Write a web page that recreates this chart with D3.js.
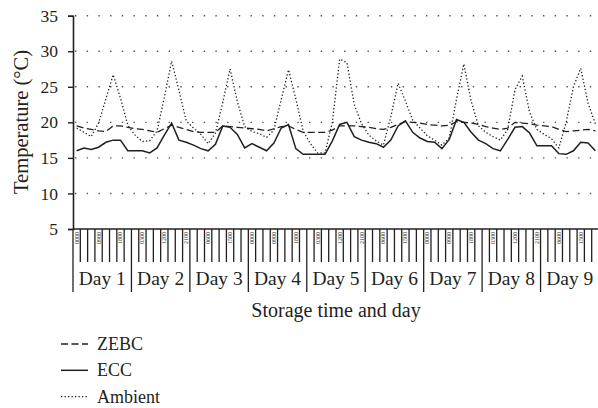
<!DOCTYPE html>
<html>
<head>
<meta charset="utf-8">
<style>
body { margin: 0; background: #fff; }
text { font-family: "Liberation Serif", "DejaVu Serif", serif; fill: #231f20; }
.axis path, .axis line { stroke: #231f20; }
</style>
</head>
<body>
<script src="https://cdn.jsdelivr.net/npm/d3@7/dist/d3.min.js"></script>
<script>

// categories
var days = ["Day 1", "Day 2", "Day 3", "Day 4", "Day 5", "Day 6", "Day 7", "Day 8", "Day 9"];
var times = ["0000", "0300", "0600", "0900", "1200", "1500", "1800", "2100"];
var yTicks = [5, 10, 15, 20, 25, 30, 35];

// series values, 8 readings per day
var zebc = [19.5, 19.2, 19.0, 18.8, 18.7, 19.5, 19.5, 19.3,
            19.1, 19.0, 18.8, 18.6, 19.1, 19.6, 19.3, 19.0,
            18.7, 18.6, 18.6, 18.6, 19.5, 19.4, 19.3, 19.2,
            19.1, 19.0, 18.8, 19.1, 19.4, 19.5, 19.0, 18.6,
            18.6, 18.6, 18.6, 18.9, 19.5, 19.5, 19.5, 19.4,
            19.3, 19.1, 19.0, 19.3, 19.7, 20.1, 20.0, 19.9,
            19.7, 19.6, 19.5, 19.6, 20.1, 20.0, 19.9, 19.7,
            19.4, 19.2, 19.0, 19.2, 20.0, 19.9, 19.8, 19.6,
            19.5, 19.4, 19.0, 18.7, 18.8, 18.9, 19.0, 18.8];

var ecc = [16.0, 16.4, 16.2, 16.5, 17.2, 17.5, 17.5, 16.0,
           16.0, 16.0, 15.7, 16.4, 18.2, 19.9, 17.5, 17.2,
           16.8, 16.3, 16.0, 16.9, 19.5, 19.3, 18.3, 16.4,
           17.0, 16.5, 16.0, 17.1, 19.2, 19.7, 16.3, 15.5,
           15.5, 15.5, 15.5, 17.4, 19.7, 20.0, 18.0, 17.5,
           17.2, 17.0, 16.5, 17.5, 19.5, 20.2, 18.6, 17.8,
           17.3, 17.2, 16.3, 17.6, 20.4, 20.0, 18.6, 17.5,
           17.0, 16.3, 16.0, 17.6, 19.3, 19.4, 18.5, 16.7,
           16.7, 16.7, 15.6, 15.5, 16.0, 17.2, 17.1, 16.0];

var ambient = [19.2, 18.6, 18.0, 19.9, 23.3, 26.7, 23.4, 19.6,
               18.2, 17.3, 17.4, 18.8, 23.5, 28.6, 24.5, 20.2,
               19.2, 18.3, 17.0, 18.5, 22.8, 27.5, 22.9, 19.4,
               18.7, 18.4, 17.9, 18.9, 23.2, 27.4, 23.3, 18.8,
               17.0, 15.7, 15.7, 20.0, 28.9, 28.4, 22.5, 19.8,
               18.2, 17.4, 16.8, 20.8, 25.5, 23.0, 20.3, 19.2,
               18.1, 17.5, 16.8, 17.8, 23.3, 28.2, 23.0, 19.5,
               18.6, 18.0, 17.5, 19.0, 24.6, 26.5, 21.4, 19.0,
               18.3, 17.7, 16.4, 20.0, 25.0, 27.6, 22.7, 19.8];

var series = [
  {name: "ZEBC", values: zebc, dash: "7,3.5", width: 1.3},
  {name: "ECC", values: ecc, dash: null, width: 1.5},
  {name: "Ambient", values: ambient, dash: "1.3,2.2", width: 1.3}
];

var width = 598, height = 408;
var plotLeft = 73, plotRight = 599, plotTop = 15.7, plotBottom = 229;

var categories = [];
days.forEach(function(d) {
  times.forEach(function(t) { categories.push(d + " " + t); });
});

var x = d3.scaleBand().domain(categories).range([plotLeft, plotRight]);
var xDay = d3.scaleBand().domain(days).range([plotLeft, plotRight]);
var y = d3.scaleLinear().domain([5, 35]).range([plotBottom, plotTop]);

var svg = d3.select("body").append("svg")
    .attr("width", width)
    .attr("height", height);

// dotted gridlines
svg.append("g")
  .selectAll("line")
  .data(yTicks.filter(function(v) { return v > 5; }))
  .enter().append("line")
    .attr("x1", plotLeft)
    .attr("x2", plotRight)
    .attr("y1", function(d) { return y(d); })
    .attr("y2", function(d) { return y(d); })
    .style("stroke", "#555")
    .style("stroke-width", 1.4)
    .style("stroke-dasharray", "1.4,10.3")
    .style("stroke-dashoffset", -2);

// y axis
var yAxis = svg.append("g")
    .attr("class", "axis")
    .attr("font-family", null)
    .attr("transform", "translate(" + plotLeft + ",0)")
    .call(d3.axisLeft(y).tickValues(yTicks).tickSize(5).tickPadding(10));
yAxis.attr("font-family", "Liberation Serif");
yAxis.select(".domain").style("stroke-width", 1.6);
yAxis.selectAll(".tick line").style("stroke-width", 1.4);
yAxis.selectAll("text").style("font-size", "17.5px").attr("fill", "#231f20");

// x axis line
svg.append("line")
    .attr("x1", plotLeft).attr("x2", plotRight)
    .attr("y1", plotBottom).attr("y2", plotBottom)
    .style("stroke", "#231f20").style("stroke-width", 1.6);

// category tick marks
svg.append("g")
  .selectAll("line")
  .data(categories)
  .enter().append("line")
    .attr("x1", function(d) { return x(d) + x.bandwidth(); })
    .attr("x2", function(d) { return x(d) + x.bandwidth(); })
    .attr("y1", plotBottom)
    .attr("y2", function(d, i) { return (i % 8 === 7) ? 292 : 262; })
    .style("stroke", "#231f20")
    .style("stroke-width", 1.3);

// left end of day separators
svg.append("line")
    .attr("x1", plotLeft).attr("x2", plotLeft)
    .attr("y1", plotBottom).attr("y2", 292)
    .style("stroke", "#231f20").style("stroke-width", 1.3);

// small rotated time labels, every third category
svg.append("g")
  .selectAll("text")
  .data(categories.filter(function(d, i) { return i % 3 === 0; }))
  .enter().append("text")
    .attr("transform", function(d) {
      return "translate(" + (x(d) + x.bandwidth() / 2 + 2) + "," + (plotBottom + 3) + ") rotate(-90)";
    })
    .attr("text-anchor", "end")
    .style("font-size", "6px")
    .text(function(d) { return d.split(" ")[2]; });

// day labels
svg.append("g")
  .selectAll("text")
  .data(days)
  .enter().append("text")
    .attr("x", function(d) { return xDay(d) + xDay.bandwidth() / 2; })
    .attr("y", 285)
    .attr("text-anchor", "middle")
    .style("font-size", "19.5px")
    .text(function(d) { return d; });

// axis titles
svg.append("text")
    .attr("x", 336)
    .attr("y", 317)
    .attr("text-anchor", "middle")
    .style("font-size", "20px")
    .text("Storage time and day");

svg.append("text")
    .attr("transform", "translate(28," + 122 + ") rotate(-90)")
    .attr("text-anchor", "middle")
    .style("font-size", "20.5px")
    .text("Temperature (°C)");

// lines
var line = d3.line()
    .x(function(d, i) { return x(categories[i]) + x.bandwidth() / 2; })
    .y(function(d) { return y(d); });

svg.append("g")
  .selectAll("path")
  .data(series)
  .enter().append("path")
    .attr("d", function(d) { return line(d.values); })
    .style("fill", "none")
    .style("stroke", "#231f20")
    .style("stroke-width", function(d) { return d.width; })
    .style("stroke-dasharray", function(d) { return d.dash; });

// legend
var legend = svg.append("g")
  .selectAll("g")
  .data(series)
  .enter().append("g")
    .attr("transform", function(d, i) { return "translate(0," + (344 + i * 26.3) + ")"; });

legend.append("line")
    .attr("x1", 61).attr("x2", 88)
    .attr("y1", 0).attr("y2", 0)
    .style("stroke", "#231f20")
    .style("stroke-width", function(d) { return d.width; })
    .style("stroke-dasharray", function(d) { return d.dash; });

legend.append("text")
    .attr("x", 97)
    .attr("y", 6)
    .style("font-size", "18px")
    .text(function(d) { return d.name; });

</script>
</body>
</html>
